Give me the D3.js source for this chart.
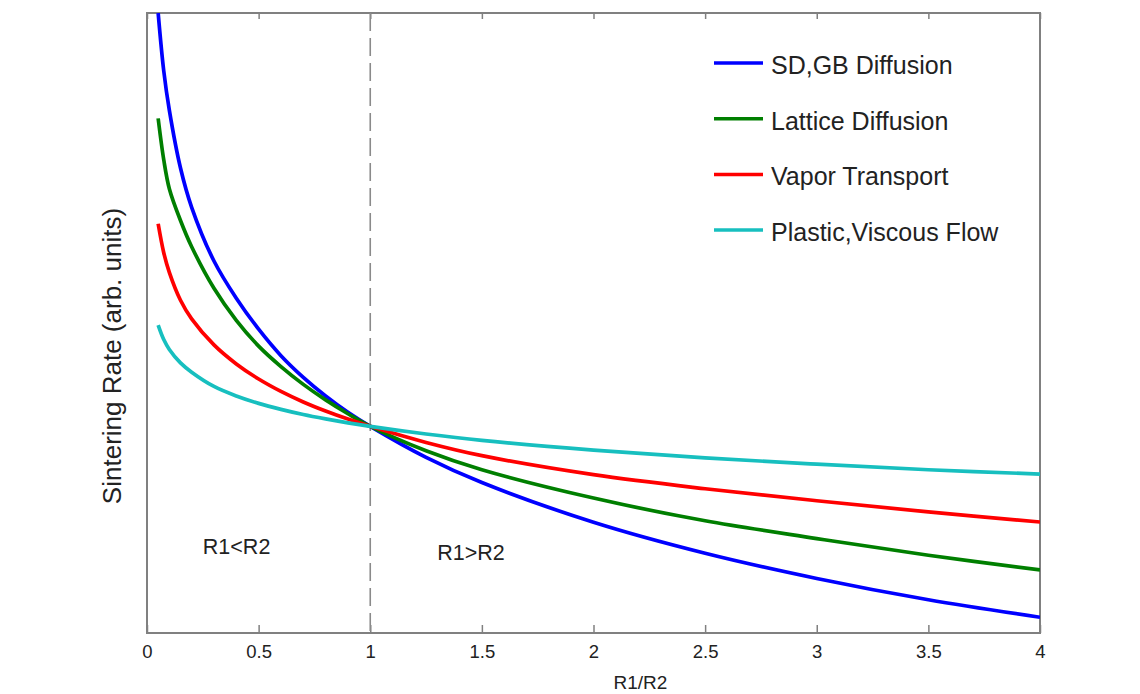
<!DOCTYPE html>
<html>
<head>
<meta charset="utf-8">
<script src="https://cdn.jsdelivr.net/npm/d3@7/dist/d3.min.js"></script>
<style>
	body { margin: 0; background: #fff; }
	text { font-family: "Liberation Sans", Arial, sans-serif; fill: #222; }
</style>
</head>
<body>
<div id="chart"></div>
<script>

/* data: R1/R2 and sintering rate (arb. units) */
var ratio = [0.05, 0.075, 0.1, 0.15, 0.2, 0.3, 0.4, 0.5, 0.6, 0.7, 0.8, 0.9, 1, 1.25, 1.5, 2, 2.5, 3, 3.5, 4];

var sdgbDiffusion    = [3.0, 2.72, 2.53, 2.25, 2.06, 1.80, 1.62, 1.47, 1.342, 1.237, 1.147, 1.068, 1.0, 0.85, 0.728, 0.536, 0.386, 0.264, 0.161, 0.076];
var latticeDiffusion = [2.49, 2.29, 2.15, 1.996, 1.869, 1.668, 1.513, 1.388, 1.289, 1.203, 1.128, 1.061, 1.0, 0.882, 0.79, 0.653, 0.543, 0.457, 0.376, 0.305];
var vaporTransport   = [1.98, 1.84, 1.745, 1.61, 1.52, 1.394, 1.302, 1.229, 1.169, 1.118, 1.074, 1.035, 1.0, 0.922, 0.858, 0.766, 0.698, 0.64, 0.586, 0.537];
var viscousFlow      = [1.49, 1.42, 1.372, 1.307, 1.262, 1.193, 1.147, 1.111, 1.082, 1.057, 1.036, 1.017, 1.0, 0.963, 0.932, 0.885, 0.847, 0.817, 0.79, 0.769];

var seriesNames  = ["SD,GB Diffusion", "Lattice Diffusion", "Vapor Transport", "Plastic,Viscous Flow"];
var seriesValues = [sdgbDiffusion, latticeDiffusion, vaporTransport, viscousFlow];
var seriesColors = ["#0000ff", "#007f00", "#ff0000", "#17bfbf"];

var xTicks = [0, 0.5, 1, 1.5, 2, 2.5, 3, 3.5, 4];
var xTickLabels = ["0", "0.5", "1", "1.5", "2", "2.5", "3", "3.5", "4"];

var regionLabels = [{ text: "R1<R2", x: 0.25 }, { text: "R1>R2", x: 1.3 }];

var drawChart = function(htmlID) {

	var width = 1140,
	    height = 694,
	    margin = {top: 13, right: 100, bottom: 61, left: 147},
	    plotW = width - margin.left - margin.right,
	    plotH = height - margin.top - margin.bottom,
	    axisColor = "#808080";

	var svg = d3.select(htmlID)
	            .append("svg")
	            .attr("width", width)
	            .attr("height", height);

	var x = d3.scaleLinear().domain([0, 4]).range([0, plotW]),
	    y = d3.scaleLinear().domain([0, 3]).range([plotH, 0]);

	var g = svg.append("g")
	            .attr("transform", "translate(" + margin.left + "," + margin.top + ")");

	svg.append("defs").append("clipPath")
	    .attr("id", "plot-clip")
	    .append("rect")
	        .attr("width", plotW)
	        .attr("height", plotH);

	/* bottom axis with inward ticks */
	var xAxis = d3.axisBottom(x)
	              .tickValues(xTicks)
	              .tickFormat(function(d, i) { return xTickLabels[i]; })
	              .tickSizeInner(-8)
	              .tickSizeOuter(0)
	              .tickPadding(12);

	var bottom = g.append("g")
	              .attr("transform", "translate(0," + plotH + ")")
	              .call(xAxis);
	bottom.select(".domain").remove();
	bottom.selectAll("line").attr("stroke", axisColor).attr("stroke-width", 1.5);
	bottom.selectAll("text")
	      .attr("font-size", 18.5)
	      .attr("fill", "#222")
	      .style("font-family", "'Liberation Sans', Arial, sans-serif");

	/* top axis: ticks only */
	var top = g.append("g")
	           .call(d3.axisTop(x).tickValues(xTicks).tickSizeInner(-6).tickSizeOuter(0).tickFormat(""));
	top.select(".domain").remove();
	top.selectAll("line").attr("stroke", axisColor).attr("stroke-width", 1.5);

	/* frame */
	g.append("rect")
	    .attr("width", plotW)
	    .attr("height", plotH)
	    .attr("fill", "none")
	    .attr("stroke", axisColor)
	    .attr("stroke-width", 2);

	/* dashed divider at R1 = R2 */
	g.append("line")
	    .attr("x1", x(1))
	    .attr("x2", x(1))
	    .attr("y1", 0)
	    .attr("y2", plotH)
	    .attr("stroke", "#8a8a8a")
	    .attr("stroke-width", 1.6)
	    .attr("stroke-dasharray", "18,7");

	/* curves */
	var line = d3.line()
	             .x(function(d) { return x(d[0]); })
	             .y(function(d) { return y(d[1]); })
	             .curve(d3.curveCatmullRom.alpha(0.5));

	g.append("g")
	    .attr("clip-path", "url(#plot-clip)")
	    .selectAll("path")
	    .data(seriesValues)
	    .enter().append("path")
	        .attr("d", function(vals) { return line(ratio.map(function(r, i) { return [r, vals[i]]; })); })
	        .attr("fill", "none")
	        .attr("stroke", function(d, i) { return seriesColors[i]; })
	        .attr("stroke-width", 3.7)
	        .attr("stroke-linejoin", "round");

	/* region labels */
	g.selectAll(".region")
	    .data(regionLabels)
	    .enter().append("text")
	        .attr("class", "region")
	        .attr("x", function(d) { return x(d.x); })
	        .attr("y", function(d, i) { return 541 + i * 6; })
	        .attr("font-size", 21.5)
	        .text(function(d) { return d.text; });

	/* legend */
	var legend = svg.append("g")
	                .attr("class", "legend")
	                .selectAll("g")
	                .data(seriesNames)
	                .enter().append("g")
	                    .attr("transform", function(d, i) { return "translate(714," + (63 + i * 55.7) + ")"; });

	legend.append("line")
	        .attr("x1", 0)
	        .attr("x2", 49)
	        .attr("stroke", function(d, i) { return seriesColors[i]; })
	        .attr("stroke-width", 3.5);

	legend.append("text")
	        .attr("x", 57)
	        .attr("y", 11)
	        .attr("font-size", 25)
	        .text(function(d) { return d; });

	/* axis titles */
	svg.append("text")
	    .attr("x", margin.left + x(2.21))
	    .attr("y", 689)
	    .attr("text-anchor", "middle")
	    .attr("font-size", 19)
	    .text("R1/R2");

	svg.append("text")
	    .attr("transform", "translate(121,356) rotate(-90)")
	    .attr("text-anchor", "middle")
	    .attr("font-size", 26)
	    .text("Sintering Rate (arb. units)");
}

drawChart("#chart");

</script>
</body>
</html>
